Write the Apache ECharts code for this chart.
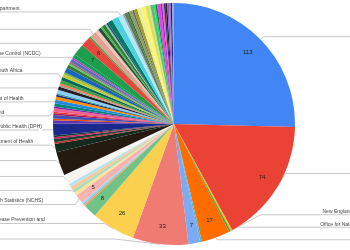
<!DOCTYPE html>
<html><head><meta charset="utf-8">
<script src="https://cdn.jsdelivr.net/npm/echarts@6/dist/echarts.min.js"></script>
<style>html,body{margin:0;padding:0;background:#fff}#c{width:350px;height:250px}</style>
</head><body><div id="c"></div>
<script>
const values = [
  113, 74, 1, 1, 17, 1, 7, 33, 26, 8,
  1, 1, 1, 5, 2, 2, 2, 2, 1, 1,
  1, 1, 1, 1, 14, 5, 1, 2, 1, 1,
  7,
  2, 1, 2, 1, 1, 2, 1, 2, 2, 2,
  1, 1, 2, 2, 1, 1, 2, 2, 2, 1,
  3, 2, 1, 1, 2, 1, 2,
  7, 6,
  1, 4, 2, 2, 1, 2, 1, 1, 3, 4,
  3, 1, 2, 1, 2, 1, 2, 2, 3, 2,
  1, 2, 1, 1, 2, 1, 1, 1, 1, 1,
  1, 1, 1
];
const names = [
  'WHO', 'CDC', 'New England Journal of Medicine', 'Office for National Statistics (ONS)', 'Worldometers', '', '', 'Johns Hopkins', 'European Centre for Disease Prevention and\nControl (ECDC)', '',
  '', '', '', 'National Center for Health Statistics (NCHS)', '', 'Public Health Agency', '', '', '', '',
  'Santé publique France', '', '', '', 'Ministry of Health', 'Washington State Department of Health', '', '', '', '',
  'Georgia Department of Public Health (DPH)',
  '', '', '', '', '', 'Health Protection Scotland', '', '', 'Pennsylvania Department of Health', '',
  '', '', '', 'RIVM', '', '', '', 'Department of Health, South Africa', '', '',
  '', '', '', '', '', '', '',
  'Nigeria Centre for Disease Control (NCDC)', 'Robert Koch Institute',
  '', 'Our World in Data', '', '', '', '', '', '', '', '',
  'New York City Health Department', '', '', '', '', '', '', '', '', '',
  '', '', '', '', '', '', '', '', '', '',
  '', '', ''
];
const palette = [
  '#4285f4', '#ea4335', '#fbbc04', '#34a853', '#ff6d01', '#46bdc6', '#7baaf7', '#f07b72', '#fcd04f', '#71c287',
  '#ff994d', '#7ed1d7', '#b3cefb', '#f7b4ae', '#fde49b', '#aedcba', '#ffc599', '#b5e5e8', '#ecf3fe', '#fdeceb',
  '#fff8e6', '#eaf6ed', '#fff0e6', '#e9f7f8', '#241a10', '#142a1f', '#c62828', '#1b4035', '#d81b60', '#0d3b2e',
  '#1a2a8c',
  '#5e35b1', '#e65100', '#3f51b5', '#ad1457', '#e53935', '#f06292', '#8e24aa', '#00897b', '#1e88e5', '#fb8c00',
  '#1a237e', '#26a69a', '#90caf9', '#212121', '#9e9e9e', '#ff7043', '#43a047', '#00695c', '#c0ca33', '#7cb342',
  '#1565c0', '#2e7d32', '#66bb6a', '#8d6e63', '#5c6bc0', '#ab47bc', '#0f9d58',
  '#1e9e4a', '#e8453c',
  '#43a047', '#dea293', '#f4c2b8', '#1e5631', '#4caf50', '#2e7d32', '#80cbc4', '#37474f', '#00796b', '#4dd0e1',
  '#b2ebf2', '#90a4ae', '#5d7a5d', '#33691e', '#8d9d6a', '#616161', '#9e9d24', '#e6ee9c', '#fff176', '#d4e157',
  '#c5e1a5', '#66bb6a', '#00e676', '#2e7d32', '#e040fb', '#9c27b0', '#f06292', '#283593', '#212121', '#ab47bc',
  '#7986cb', '#1a237e', '#b39ddb'
];

const LINE = '#c8c8c8';
const total = values.reduce((a, b) => a + b, 0);
let cum = 0;
const onRight = [];
const outerData = values.map((v, i) => {
  const mid = cum + v / 2; cum += v;
  const right = mid < total / 2;
  onRight.push(right);
  const item = { value: v, name: names[i], itemStyle: { color: palette[i] } };
  if (names[i]) {
    item.label = { show: true, edgeDistance: right ? -47 : -55 };
    item.labelLine = { show: true };
  }
  return item;
});
const innerData = values.map((v, i) => ({ value: v, name: names[i] }));

// text line, underline bar, then second text line (or an empty line) so the bar sits at the label's middle
function outerLabel(p) {
  const parts = p.name.split('\n');
  const t = onRight[p.dataIndex] ? 'tr' : 't';
  const e = onRight[p.dataIndex] ? 'er' : 'e';
  return '{' + t + '|' + parts[0] + '}\n{u| }\n' + (parts[1] ? '{' + t + '|' + parts[1] + '}' : '{' + e + '| }');
}

const chart = echarts.init(document.getElementById('c'), null, { renderer: 'canvas' });
chart.setOption({
  animation: false,
  backgroundColor: '#ffffff',
  series: [{
    type: 'pie', left: 0, top: 0, right: 0, bottom: 4,
    radius: [0, 121], center: [174, 124], startAngle: 90, clockwise: true,
    avoidLabelOverlap: true,
    itemStyle: { borderWidth: 0 },
    label: {
      show: false, position: 'outside', alignTo: 'edge', edgeDistance: -55,
      distanceToLabelLine: 0, overflow: 'none', formatter: outerLabel,
      rich: {
        t: { fontSize: 5, lineHeight: 6, color: '#444', fontFamily: 'Liberation Sans, Arial, sans-serif' },
        e: { fontSize: 5, lineHeight: 6 },
        tr: { fontSize: 5, lineHeight: 4.5, color: '#444', fontFamily: 'Liberation Sans, Arial, sans-serif' },
        er: { fontSize: 5, lineHeight: 4.5 },
        u: { fontSize: 1, lineHeight: 1, height: 1, width: '100%', backgroundColor: LINE }
      }
    },
    labelLine: { show: true, length: 4, length2: 10, lineStyle: { color: LINE, width: 1 } },
    emphasis: { disabled: true },
    data: outerData
  }, {
    type: 'pie', left: 0, top: 0, right: 0, bottom: 4,
    radius: [79, 121], center: [174, 124], startAngle: 90, clockwise: true,
    silent: true, avoidLabelOverlap: false,
    itemStyle: { color: 'rgba(0,0,0,0)', borderWidth: 0 },
    label: {
      show: true, position: 'inside', fontSize: 6, color: '#222',
      fontFamily: 'Liberation Sans, Arial, sans-serif',
      formatter: p => (p.value >= 5 ? String(p.value) : '')
    },
    labelLine: { show: false },
    emphasis: { disabled: true },
    data: innerData
  }]
});
</script>
</body></html>
